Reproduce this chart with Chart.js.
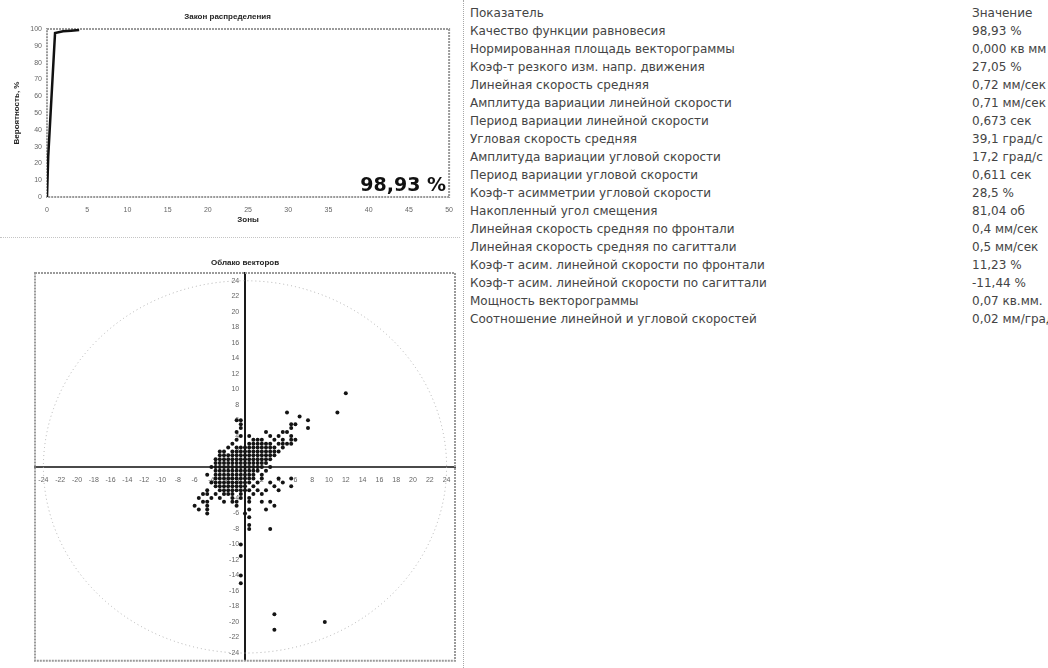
<!DOCTYPE html>
<html>
<head>
<meta charset="utf-8">
<script src="https://cdn.jsdelivr.net/npm/chart.js@4.4.1/dist/chart.umd.min.js"></script>
<style>
  html, body { margin: 0; padding: 0; background: #fff; }
  body { width: 1048px; height: 668px; position: relative; overflow: hidden; font-family: "DejaVu Sans", "Liberation Sans", sans-serif; }
  #dist { position: absolute; left: 0; top: 0; }
  #cloud { position: absolute; left: 0; top: 245px; }
  #hsep { position: absolute; left: 0; top: 237px; width: 460px; border-top: 1px dotted #c4c4c4; }
  #vsep { position: absolute; left: 463px; top: 0; height: 668px; border-left: 1px dotted #a8a8a8; }
  #table { position: absolute; left: 470px; top: 4px; right: 0; }
  .row { position: relative; height: 18px; line-height: 18px; font-size: 12px; color: #444; white-space: nowrap; }
  .row .v { position: absolute; left: 502px; top: 0; }
</style>
</head>
<body>
<canvas id="dist" width="462" height="232"></canvas>
<div id="hsep"></div>
<canvas id="cloud" width="462" height="423"></canvas>
<div id="vsep"></div>
<div id="table"></div>

<script>
// ---- distribution law (cumulative probability by zone) ----
const zones       = [0, 0.15, 1,    2,    3,  4];
const probability = [0, 24,   97.6, 98.6, 99, 99.4];
const qualityValue = 98.93;

// ---- vector cloud ----
const cloudTicks = [-24, -22, -20, -18, -16, -14, -12, -10, -8, -6, -4, -2, 0,
                    2, 4, 6, 8, 10, 12, 14, 16, 18, 20, 22, 24];
const cloudRadius = 24;
const vectorPoints = [
  [12.0, 9.5], [11.0, 7.0], [5.0, 7.0], [6.5, 6.5],
  [7.5, 6.0], [-0.5, 6.0], [-1.0, 6.0],
  [-0.5, 5.5], [6.0, 5.5], [5.5, 5.5],
  [-0.5, 5.0], [5.5, 5.0], [7.5, 5.0],
  [-1.0, 4.5], [2.5, 4.5], [4.5, 4.5], [5.0, 4.5],
  [-0.5, 4.0], [0.5, 4.0], [3.0, 4.0], [4.0, 4.0], [5.5, 4.0],
  [-1.0, 3.5], [1.0, 3.5], [1.5, 3.5], [2.0, 3.5], [3.5, 3.5], [4.5, 3.5], [5.5, 3.5], [6.0, 3.5],
  [-1.5, 3.0], [0.5, 3.0], [1.0, 3.0], [1.5, 3.0], [2.0, 3.0], [2.5, 3.0], [3.0, 3.0], [4.0, 3.0], [4.5, 3.0], [5.0, 3.0], [5.5, 3.0],
  [-2.0, 2.5], [-1.0, 2.5], [-0.5, 2.5], [0.0, 2.5], [0.5, 2.5], [1.0, 2.5], [1.5, 2.5], [2.0, 2.5], [2.5, 2.5], [3.0, 2.5], [3.5, 2.5], [4.5, 2.5],
  [-3.0, 2.0], [-2.5, 2.0], [-1.5, 2.0], [-1.0, 2.0], [-0.5, 2.0], [0.0, 2.0], [0.5, 2.0], [1.0, 2.0], [1.5, 2.0], [2.0, 2.0], [2.5, 2.0], [3.0, 2.0], [3.5, 2.0], [4.0, 2.0],
  [-3.0, 1.5], [-2.5, 1.5], [-2.0, 1.5], [-1.5, 1.5], [-1.0, 1.5], [-0.5, 1.5], [0.0, 1.5], [0.5, 1.5], [1.0, 1.5], [1.5, 1.5], [2.0, 1.5], [2.5, 1.5], [3.0, 1.5], [3.5, 1.5],
  [-3.5, 1.0], [-3.0, 1.0], [-2.5, 1.0], [-2.0, 1.0], [-1.5, 1.0], [-1.0, 1.0], [-0.5, 1.0], [0.0, 1.0], [0.5, 1.0], [1.0, 1.0], [1.5, 1.0], [2.0, 1.0], [2.5, 1.0], [3.0, 1.0],
  [-3.5, 0.5], [-3.0, 0.5], [-2.5, 0.5], [-2.0, 0.5], [-1.5, 0.5], [-1.0, 0.5], [-0.5, 0.5], [0.0, 0.5], [0.5, 0.5], [1.0, 0.5], [1.5, 0.5], [2.0, 0.5], [2.5, 0.5],
  [-4.0, 0.0], [-3.5, 0.0], [-3.0, 0.0], [-2.5, 0.0], [-2.0, 0.0], [-1.5, 0.0], [-1.0, 0.0], [-0.5, 0.0], [0.0, 0.0], [0.5, 0.0], [1.0, 0.0], [1.5, 0.0], [2.0, 0.0], [3.0, 0.0],
  [-3.5, -0.5], [-3.0, -0.5], [-2.5, -0.5], [-2.0, -0.5], [-1.5, -0.5], [-1.0, -0.5], [-0.5, -0.5], [0.0, -0.5], [0.5, -0.5], [1.0, -0.5], [1.5, -0.5], [2.5, -0.5],
  [-4.5, -1.0], [-3.5, -1.0], [-3.0, -1.0], [-2.5, -1.0], [-2.0, -1.0], [-1.5, -1.0], [-1.0, -1.0], [-0.5, -1.0], [0.0, -1.0], [0.5, -1.0], [1.0, -1.0], [2.0, -1.0],
  [-3.5, -1.5], [-3.0, -1.5], [-2.5, -1.5], [-2.0, -1.5], [-1.5, -1.5], [-1.0, -1.5], [-0.5, -1.5], [0.0, -1.5], [0.5, -1.5], [1.0, -1.5], [2.0, -1.5], [4.0, -1.5], [5.5, -1.5],
  [-4.0, -2.0], [-3.5, -2.0], [-3.0, -2.0], [-2.5, -2.0], [-2.0, -2.0], [-1.5, -2.0], [-1.0, -2.0], [-0.5, -2.0], [0.0, -2.0], [0.5, -2.0], [1.5, -2.0], [3.0, -2.0], [4.5, -2.0],
  [-3.5, -2.5], [-3.0, -2.5], [-2.5, -2.5], [-2.0, -2.5], [-1.5, -2.5], [-1.0, -2.5], [-0.5, -2.5], [0.0, -2.5], [1.0, -2.5], [3.5, -2.5], [5.5, -2.5],
  [-4.5, -3.0], [-3.0, -3.0], [-2.5, -3.0], [-2.0, -3.0], [-1.5, -3.0], [-1.0, -3.0], [-0.5, -3.0], [0.0, -3.0], [0.5, -3.0], [1.5, -3.0], [2.5, -3.0], [4.0, -3.0],
  [-5.0, -3.5], [-4.5, -3.5], [-3.5, -3.5], [-2.5, -3.5], [-2.0, -3.5], [-1.5, -3.5], [-0.5, -3.5], [1.0, -3.5], [2.0, -3.5],
  [-5.5, -4.0], [-4.0, -4.0], [-3.0, -4.0], [-1.5, -4.0], [-0.5, -4.0], [0.5, -4.0],
  [-5.0, -4.5], [-4.5, -4.5], [-2.5, -4.5], [-1.5, -4.5], [-1.0, -4.5], [0.5, -4.5], [2.0, -4.5], [3.0, -4.5],
  [-6.0, -5.0], [-4.5, -5.0], [-1.0, -5.0], [3.5, -5.0],
  [-5.5, -5.5], [-4.5, -5.5], [0.5, -5.5], [2.5, -5.5],
  [-4.5, -6.0], [0.0, -6.0], [0.5, -6.5],
  [0.5, -7.5], [0.5, -8.0], [3.0, -8.0],
  [-0.5, -10.0], [-0.5, -11.5], [-0.5, -14.0], [-0.5, -15.0],
  [3.5, -19.0], [3.5, -21.0], [9.5, -20.0]
];

// ---- indicators table ----
const indicatorHeader = ['Показатель', 'Значение'];
const indicatorNames = [
  'Качество функции равновесия',
  'Нормированная площадь векторограммы',
  'Коэф-т резкого изм. напр. движения',
  'Линейная скорость средняя',
  'Амплитуда вариации линейной скорости',
  'Период вариации линейной скорости',
  'Угловая скорость средняя',
  'Амплитуда вариации угловой скорости',
  'Период вариации угловой скорости',
  'Коэф-т асимметрии угловой скорости',
  'Накопленный угол смещения',
  'Линейная скорость средняя по фронтали',
  'Линейная скорость средняя по сагиттали',
  'Коэф-т асим. линейной скорости по фронтали',
  'Коэф-т асим. линейной скорости по сагиттали',
  'Мощность векторограммы',
  'Соотношение линейной и угловой скоростей'
];
const indicatorValues = [
  '98,93 %', '0,000 кв мм', '27,05 %', '0,72 мм/сек', '0,71 мм/сек', '0,673 сек',
  '39,1 град/с', '17,2 град/с', '0,611 сек', '28,5 %', '81,04 об', '0,4 мм/сек',
  '0,5 мм/сек', '11,23 %', '-11,44 %', '0,07 кв.мм.', '0,02 мм/град'
];

// build the table
(function () {
  const host = document.getElementById('table');
  const addRow = (a, b) => {
    const r = document.createElement('div');
    r.className = 'row';
    const n = document.createElement('span'); n.textContent = a;
    const v = document.createElement('span'); v.className = 'v'; v.textContent = b;
    r.appendChild(n); r.appendChild(v); host.appendChild(r);
  };
  addRow(indicatorHeader[0], indicatorHeader[1]);
  indicatorNames.forEach((name, i) => addRow(name, indicatorValues[i]));
})();

Chart.defaults.font.family = '"Liberation Sans", Arial, sans-serif';

// dotted frame around the plot area
const framePlugin = {
  id: 'frame',
  beforeDatasetsDraw(chart) {
    const { ctx, chartArea: a } = chart;
    ctx.save();
    ctx.strokeStyle = '#9a9a9a';
    ctx.lineWidth = 2;
    ctx.setLineDash([2, 1]);
    ctx.strokeRect(a.left, a.top, a.right - a.left, a.bottom - a.top);
    ctx.restore();
  }
};

// large quality figure in the lower right corner of the distribution plot
const qualityLabelPlugin = {
  id: 'qualityLabel',
  afterDatasetsDraw(chart) {
    const { ctx, chartArea: a } = chart;
    ctx.save();
    ctx.font = 'bold 19px "DejaVu Sans", sans-serif';
    ctx.fillStyle = '#111';
    ctx.textAlign = 'right';
    ctx.textBaseline = 'alphabetic';
    ctx.fillText(qualityValue.toFixed(2).replace('.', ',') + ' %', a.right - 3, a.bottom - 6);
    ctx.restore();
  }
};

// reference circle of the vector cloud, scaled through the chart axes
const circlePlugin = {
  id: 'refCircle',
  beforeDatasetsDraw(chart) {
    const { ctx } = chart;
    const xs = chart.scales.x, ys = chart.scales.y;
    const cx = xs.getPixelForValue(0), cy = ys.getPixelForValue(0);
    const rx = xs.getPixelForValue(cloudRadius) - cx;
    const ry = cy - ys.getPixelForValue(cloudRadius);
    ctx.save();
    ctx.strokeStyle = '#b0b0b0';
    ctx.lineWidth = 1;
    ctx.setLineDash([1, 3]);
    ctx.beginPath();
    ctx.ellipse(cx, cy, rx, ry, 0, 0, Math.PI * 2);
    ctx.stroke();
    ctx.restore();
  }
};

const smallTick = { size: 7 };
const titleFont = { size: 8, weight: 'bold' };

new Chart(document.getElementById('dist'), {
  type: 'line',
  data: {
    datasets: [{
      data: zones.map((z, i) => ({ x: z, y: probability[i] })),
      borderColor: '#111',
      borderWidth: 2.5,
      pointRadius: 0,
      tension: 0,
      fill: false
    }]
  },
  options: {
    responsive: false,
    animation: false,
    devicePixelRatio: 1,
    layout: { padding: { left: 0, right: 7, top: 0, bottom: 0 } },
    plugins: {
      legend: { display: false },
      tooltip: { enabled: false },
      title: {
        display: true, text: 'Закон распределения', color: '#222',
        font: titleFont, padding: { top: 12, bottom: 7.4 }
      }
    },
    scales: {
      x: {
        type: 'linear', min: 0, max: 50,
        ticks: { stepSize: 5, font: smallTick, color: '#666', padding: 9, maxRotation: 0 },
        grid: { display: false, drawTicks: false },
        border: { display: false },
        title: { display: true, text: 'Зоны', color: '#222', font: titleFont, padding: { top: 0, bottom: 7 } },
        afterFit(s) { s.height = 35; }
      },
      y: {
        type: 'linear', min: 0, max: 100,
        ticks: { stepSize: 10, font: smallTick, color: '#666', padding: 5 },
        grid: { display: false, drawTicks: false },
        border: { display: false },
        title: { display: true, text: 'Вероятность, %', color: '#222', font: titleFont, padding: { top: 12, bottom: 0 } },
        afterFit(s) { s.width = 47; }
      }
    }
  },
  plugins: [framePlugin, qualityLabelPlugin]
});

new Chart(document.getElementById('cloud'), {
  type: 'scatter',
  data: {
    datasets: [{
      data: vectorPoints.map(p => ({ x: p[0], y: p[1] })),
      backgroundColor: '#141414',
      borderWidth: 0,
      pointRadius: 2,
      pointHoverRadius: 2
    }]
  },
  options: {
    responsive: false,
    animation: false,
    devicePixelRatio: 1,
    layout: { padding: { left: 35, right: 7, top: 0, bottom: 1 } },
    plugins: {
      legend: { display: false },
      tooltip: { enabled: false },
      title: {
        display: true, text: 'Облако векторов', color: '#222',
        font: titleFont, padding: { top: 13.2, bottom: 5.2 }
      }
    },
    scales: {
      x: {
        type: 'linear', min: -25, max: 25, position: { y: 0 },
        afterBuildTicks(s) { s.ticks = cloudTicks.map(v => ({ value: v })); },
        ticks: {
          font: smallTick, color: '#666', padding: 9, maxRotation: 0, autoSkip: false,
          callback: v => (v === 0 ? '' : String(v))
        },
        grid: { display: false, drawTicks: false },
        border: { display: true, color: '#4a4a4a', width: 2 }
      },
      y: {
        type: 'linear', min: -25, max: 25, position: { x: 0 },
        afterBuildTicks(s) { s.ticks = cloudTicks.map(v => ({ value: v })); },
        ticks: {
          font: smallTick, color: '#666', autoSkip: false,
          callback: v => (v === 0 ? '' : String(v) + '   ')
        },
        grid: { display: false, drawTicks: false },
        border: { display: true, color: '#1a1a1a', width: 2 }
      }
    }
  },
  plugins: [framePlugin, circlePlugin]
});
</script>
</body>
</html>
